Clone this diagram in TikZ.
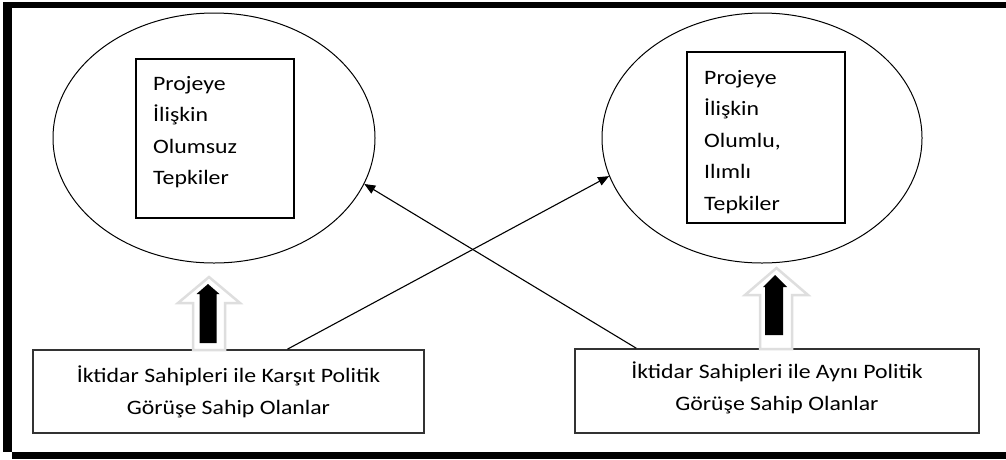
\documentclass[tikz,border=0pt]{standalone}
\usepackage{fontspec}
\setmainfont{Carlito}[FakeStretch=1.16]
\usetikzlibrary{shapes.geometric,arrows.meta,calc}
\begin{document}
\begin{tikzpicture}[x=1pt,y=-1pt,
  ell/.style={draw, ellipse, line width=1pt, inner sep=0, minimum width=322pt, minimum height=250pt},
  inbox/.style={draw, line width=1.2pt, inner sep=0},
  grpbox/.style={draw=black!80, line width=1.6pt, inner sep=0},
  txt/.style={inner sep=0, font=\fontsize{20.5}{31.5}\selectfont},
  conn/.style={line width=1.1pt, -{Triangle[length=11pt,width=9pt]}},
  ghost/.style={fill=white, draw=black!13, line width=2.5pt, line join=miter},
  blk/.style={fill=black}]
\useasboundingbox (0,0) rectangle (1006,459);
% frame (left, top, bottom)
\fill (3,2) rectangle (12,452);
\fill (3,2) rectangle (1006,8);
\fill (12,452) rectangle (1006,459);
% ellipses
\node[ell] (L) at (214,138) {};
\node[ell, minimum width=320pt] (R) at (762,138) {};
% inner boxes
\node[inbox, minimum width=158pt, minimum height=159pt] (LB) at (215,138.5) {};
\node[inbox, minimum width=158pt, minimum height=171pt] (RB) at (766,137.5) {};
\node[txt, align=left, anchor=north west] (LT) at (153,76) {Projeye\\İlişkin\\Olumsuz\\Tepkiler};
\node[txt, align=left, anchor=north west] (RT) at (704,70) {Projeye\\İlişkin\\Olumlu,\\Ilımlı\\Tepkiler};
% bottom boxes
\node[grpbox, minimum width=391pt, minimum height=83pt] (B1) at (228.5,391.5) {};
\node[grpbox, minimum width=404pt, minimum height=84pt] (B2) at (777,391) {};
\node[txt, align=center, anchor=north] (B1T) at (228.5,366) {İktidar Sahipleri ile Karşıt Politik\\Görüşe Sahip Olanlar};
\node[txt, align=center, anchor=north] (B2T) at (777,362) {İktidar Sahipleri ile Aynı Politik\\Görüşe Sahip Olanlar};
% block arrows
\draw[ghost] (209,277) -- (240,303) -- (225,303) -- (225,350) -- (193,350) -- (193,303) -- (178,303) -- cycle;
\fill[blk] (208,284) -- (219.5,294) -- (216.5,294) -- (216.5,343) -- (199.5,343) -- (199.5,294) -- (196.5,294) -- cycle;
\draw[ghost] (776.5,268) -- (808,295) -- (792,295) -- (792,349) -- (760,349) -- (760,295) -- (745,295) -- cycle;
\fill[blk] (775,275) -- (787,287) -- (783,287) -- (783,335) -- (765,335) -- (765,287) -- (763,287) -- cycle;
% connectors
\draw[conn] ($(B1.north west)!0.65!(B1.north east)$) -- (R.194);
\draw[conn] ($(B2.north west)!0.153!(B2.north east)$) -- (L.-17);
\end{tikzpicture}
\end{document}
